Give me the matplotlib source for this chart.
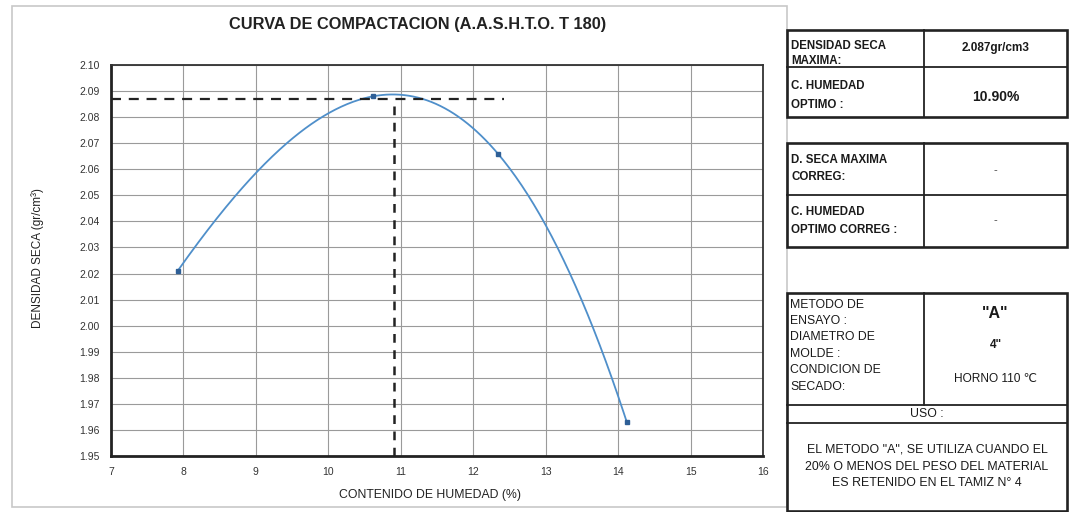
import numpy as np
import matplotlib
matplotlib.use("Agg")
import matplotlib.pyplot as plt
from matplotlib.patches import Rectangle

plt.rcParams['font.family'] = ['Liberation Sans', 'DejaVu Sans']

# Compaction test results
humedad = [7.92, 10.62, 12.34, 14.12]          # moisture content (%)
densidad = [2.021, 2.088, 2.066, 1.963]        # dry density (gr/cm3)

humedad_optima = 10.90
densidad_maxima = 2.087
dash_x_end = 12.43

x_ticks = [7, 8, 9, 10, 11, 12, 13, 14, 15, 16]
y_ticks = [1.95, 1.96, 1.97, 1.98, 1.99, 2.00, 2.01, 2.02, 2.03, 2.04,
           2.05, 2.06, 2.07, 2.08, 2.09, 2.10]

title = "CURVA DE COMPACTACION (A.A.S.H.T.O. T 180)"
x_label = "CONTENIDO DE HUMEDAD (%)"
y_label = "DENSIDAD SECA (gr/cm³)"

W, H = 1069, 512
fig = plt.figure(figsize=(W / 100, H / 100), dpi=100)

# Full-figure canvas in pixel units for frames and tables
bg = fig.add_axes([0, 0, 1, 1])
bg.set_xlim(0, W)
bg.set_ylim(H, 0)
bg.axis('off')

bg.add_patch(Rectangle((12, 6), 775, 501, fill=False, ec='#c8c8c8', lw=1.2))

INK = '#1a1a1a'

def cell_box(x0, y0, x1, y1, lw=1.9):
    bg.add_patch(Rectangle((x0, y0), x1 - x0, y1 - y0, fill=False, ec='#222222', lw=lw))

def hline(x0, x1, y, lw=1.3):
    bg.plot([x0, x1], [y, y], color='#222222', lw=lw)

def vline(x, y0, y1, lw=1.3):
    bg.plot([x, x], [y0, y1], color='#222222', lw=lw)

def lines(x, ys, texts, **kw):
    for y, t in zip(ys, texts):
        bg.text(x, y, t, va='center', color=INK, **kw)

TL, TR, TM = 787, 1067, 924
RC = (TM + TR) / 2

# Table 1
cell_box(TL, 30, TR, 117)
hline(TL, TR, 67)
vline(TM, 30, 117)
lines(TL + 4, [46, 61], ["DENSIDAD SECA", "MAXIMA:"], fontsize=8.3, fontweight='bold')
lines(TL + 4, [86, 105], ["C. HUMEDAD", "OPTIMO :"], fontsize=8.3, fontweight='bold')
bg.text(RC, 48, f"{densidad_maxima:.3f}gr/cm3", fontsize=8.5, fontweight='bold',
        ha='center', va='center', color=INK)
bg.text(RC, 97, f"{humedad_optima:.2f}%", fontsize=10, fontweight='bold',
        ha='center', va='center', color=INK)

# Table 2
cell_box(TL, 143, TR, 247)
hline(TL, TR, 195)
vline(TM, 143, 247)
lines(TL + 4, [160, 177], ["D. SECA MAXIMA", "CORREG:"], fontsize=8.3, fontweight='bold')
lines(TL + 4, [212, 230], ["C. HUMEDAD", "OPTIMO CORREG :"], fontsize=8.3, fontweight='bold')
bg.text(RC, 170, "-", fontsize=8, ha='center', va='center', color='#444444')
bg.text(RC, 220, "-", fontsize=8, ha='center', va='center', color='#444444')

# Table 3
cell_box(TL, 292.5, TR, 511)
vline(TM, 292.5, 405)
hline(TL, TR, 405)
hline(TL, TR, 423)
lines(TL + 3, [305, 321, 337, 354, 370, 387],
      ["METODO DE", "ENSAYO :", "DIAMETRO DE", "MOLDE :", "CONDICION DE", "SECADO:"],
      fontsize=8.8)
bg.text(RC, 313, '"A"', fontsize=11.5, fontweight='bold', ha='center', va='center', color=INK)
bg.text(RC, 345, '4"', fontsize=8.5, fontweight='bold', ha='center', va='center', color=INK)
bg.text(RC, 379, "HORNO 110 ℃", fontsize=8.6, ha='center', va='center', color=INK)
bg.text((TL + TR) / 2, 414, "USO :", fontsize=8.8, ha='center', va='center', color=INK)
lines((TL + TR) / 2, [450, 467, 483],
      ['EL METODO "A", SE UTILIZA CUANDO EL', '20% O MENOS DEL PESO DEL MATERIAL',
       'ES RETENIDO EN EL TAMIZ N° 4'],
      fontsize=8.9, ha='center')

# Title
bg.text(418, 25, title, fontsize=11.8, fontweight='bold', ha='center', va='center', color='#222222')

# Compaction chart
ax = fig.add_axes([111 / W, 1 - 456 / H, 652 / W, 391 / H])
ax.set_xlim(x_ticks[0], x_ticks[-1])
ax.set_ylim(y_ticks[0], y_ticks[-1])
ax.set_xticks(x_ticks)
ax.set_yticks(y_ticks)
ax.set_yticklabels([f"{v:.2f}" for v in y_ticks])
ax.grid(True, color='#9a9a9a', lw=0.8)
ax.set_axisbelow(True)
ax.tick_params(axis='both', length=0, labelsize=7.5, colors='#333333')
ax.tick_params(axis='x', pad=8)
ax.tick_params(axis='y', pad=8)
for side in ['top', 'right']:
    ax.spines[side].set_linewidth(1.3)
    ax.spines[side].set_color('#333333')
for side in ['left', 'bottom']:
    ax.spines[side].set_linewidth(2.0)
    ax.spines[side].set_color('#222222')

coef = np.polyfit(humedad, densidad, 3)
xs = np.linspace(min(humedad), max(humedad), 300)
ax.plot(xs, np.polyval(coef, xs), color='#4f8fca', lw=1.3, zorder=3)
ax.plot(humedad, densidad, 's', color='#2e5f96', ms=2.5, zorder=4)

ax.plot([x_ticks[0], dash_x_end], [densidad_maxima, densidad_maxima], '--', color='#222222',
        lw=1.6, dashes=(4.5, 3.5), zorder=5)
ax.plot([humedad_optima, humedad_optima], [y_ticks[0], densidad_maxima], '--', color='#222222',
        lw=1.8, dashes=(3.5, 3.0), zorder=5)

ax.set_xlabel(x_label, fontsize=8.8, color='#222222')
ax.set_ylabel(y_label, fontsize=8.5, color='#222222')
ax.xaxis.set_label_coords((430 - 111) / 652, (456 - 495) / 391)
ax.yaxis.set_label_coords((38 - 111) / 652, (456 - 258) / 391)
ax.xaxis.label.set_va('center')
ax.yaxis.label.set_va('center')

fig.savefig("out.png", dpi=100, facecolor='white')
